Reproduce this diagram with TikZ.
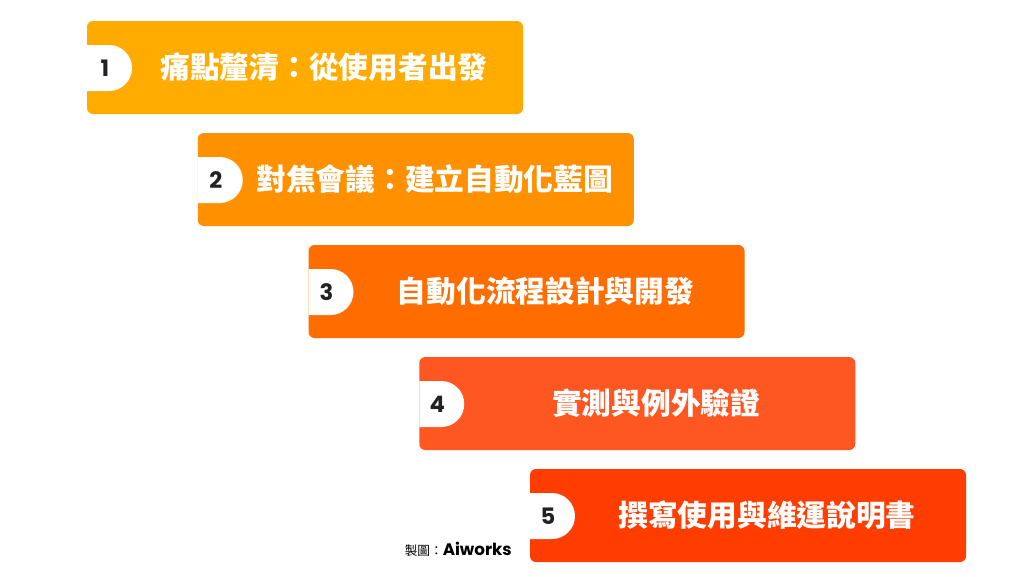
\documentclass[tikz,border=0pt]{standalone}
\usepackage{fontspec}
\newfontfamily\cjk{Noto Sans CJK TC}
\newfontfamily\numfont{Poppins}
\definecolor{c1}{HTML}{FFAB00}
\definecolor{c2}{HTML}{FF9100}
\definecolor{c3}{HTML}{FF6D00}
\definecolor{c4}{HTML}{FF5722}
\definecolor{c5}{HTML}{FF3D00}
\definecolor{numc}{HTML}{222222}
\begin{document}
\begin{tikzpicture}[x=0.75pt,y=-0.75pt,
  stepbox/.style={rounded corners=4.5pt, inner sep=0pt, outer sep=0pt, minimum width=327pt, minimum height=69.75pt, anchor=north west},
  numlabel/.style={font=\numfont\bfseries\fontsize{17}{17}\selectfont, text=numc, inner sep=0pt},
  steptext/.style={font=\cjk\bfseries\fontsize{22.3}{24}\selectfont, text=white, inner sep=0pt},
  tabshape/.style={fill=white}]
\useasboundingbox (0,0) rectangle (1024,576);
\fill[white] (0,0) rectangle (1024,576);
\foreach \i/\c/\t in {1/c1/{痛點釐清：從使用者出發},2/c2/{對焦會議：建立自動化藍圖},3/c3/{自動化流程設計與開發},4/c4/{實測與例外驗證},5/c5/{撰寫使用與維運說明書}}{
  \pgfmathsetmacro{\bx}{87+110.75*(\i-1)}
  \pgfmathsetmacro{\by}{21+112*(\i-1)}
  \node[stepbox, fill=\c] (b\i) at (\bx,\by) {};
  \fill[tabshape] (\bx,\by+24) -- (\bx+22,\by+24) arc[start angle=-90, end angle=90, radius=23] -- (\bx,\by+70) -- cycle;
  \node[numlabel] (n\i) at (\bx+18,\by+47) {\i};
  \node[steptext] (t\i) at (\bx+237,\by+46.5) {\t};
}
\node[anchor=east, inner sep=0pt] (credit) at (512,549) {{\cjk\fontsize{9.5}{10}\selectfont 製圖：}{\numfont\bfseries\fontsize{12.5}{13}\selectfont Aiworks}};
\end{tikzpicture}
\end{document}
